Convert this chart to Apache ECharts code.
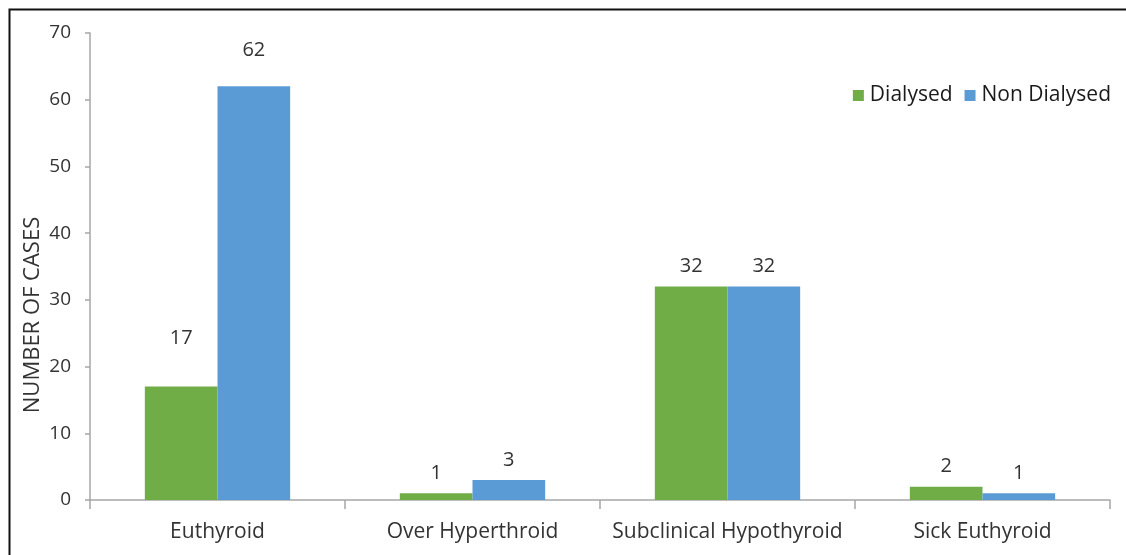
<!DOCTYPE html>
<html>
<head>
<meta charset="utf-8">
<script src="https://cdn.jsdelivr.net/npm/echarts@6/dist/echarts.min.js"></script>
<style>
  html, body { margin: 0; padding: 0; background: #fff; }
  #chart { width: 1126px; height: 555px; }
</style>
</head>
<body>
<div id="chart"></div>
<script>
const categories = ['Euthyroid', 'Over Hyperthroid', 'Subclinical Hypothyroid', 'Sick Euthyroid']
const dialysed = [17, 1, 32, 2]
const nonDialysed = [62, 3, 32, 1]
const yTicks = { min: 0, max: 70, interval: 10 }

const font = 'Open Sans'
const textColor = '#333'
const axisColor = '#a6a6a6'

// labels that were dragged higher in the original
const liftDialysed = { 0: 38 }
const liftNon = { 0: 26 }

function items(values, lift) {
  return values.map((v, i) => ({
    value: v,
    label: { distance: lift[i] !== undefined ? lift[i] : 10 }
  }))
}

const chart = echarts.init(document.getElementById('chart'))
chart.setOption({
  animation: false,
  color: ['#70ad47', '#5b9bd5'],
  grid: { left: 90, right: 16, top: 33, bottom: 55 },
  legend: {
    data: ['Dialysed', 'Non Dialysed'],
    right: 10,
    top: 80,
    itemWidth: 11,
    itemHeight: 11,
    itemGap: 12,
    icon: 'rect',
    textStyle: { fontFamily: font, fontSize: 21, color: '#1a1a1a', padding: [0, 0, 0, 1] }
  },
  xAxis: {
    type: 'category',
    data: categories,
    axisLine: { lineStyle: { color: axisColor, width: 1.5 } },
    axisTick: { show: true, length: 9, lineStyle: { color: axisColor, width: 1.5 } },
    axisLabel: { interval: 0, fontFamily: font, fontSize: 21, color: textColor, margin: 22 }
  },
  yAxis: {
    type: 'value',
    min: yTicks.min,
    max: yTicks.max,
    interval: yTicks.interval,
    splitLine: { show: false },
    axisLine: { show: true, lineStyle: { color: axisColor, width: 1.5 } },
    axisTick: { show: true, length: 5, lineStyle: { color: axisColor, width: 1.5 } },
    axisLabel: { fontFamily: font, fontSize: 19, color: textColor, margin: 19 }
  },
  graphic: [
    {
      type: 'rect',
      shape: { x: 9.5, y: 9.5, width: 1200, height: 600 },
      style: { fill: 'none', stroke: '#111', lineWidth: 2 },
      silent: true
    },
    {
      type: 'text',
      x: 33,
      y: 315,
      rotation: Math.PI / 2,
      style: {
        text: 'NUMBER OF CASES',
        fontFamily: font,
        fontSize: 22,
        fill: textColor,
        align: 'center',
        verticalAlign: 'middle'
      }
    }
  ],
  series: [
    {
      name: 'Dialysed',
      type: 'bar',
      barGap: '0%',
      barCategoryGap: '43%',
      data: items(dialysed, liftDialysed),
      label: { show: true, position: 'top', fontFamily: font, fontSize: 20, color: textColor }
    },
    {
      name: 'Non Dialysed',
      type: 'bar',
      barGap: '0%',
      barCategoryGap: '43%',
      data: items(nonDialysed, liftNon),
      label: { show: true, position: 'top', fontFamily: font, fontSize: 20, color: textColor }
    }
  ]
})
</script>
</body>
</html>
